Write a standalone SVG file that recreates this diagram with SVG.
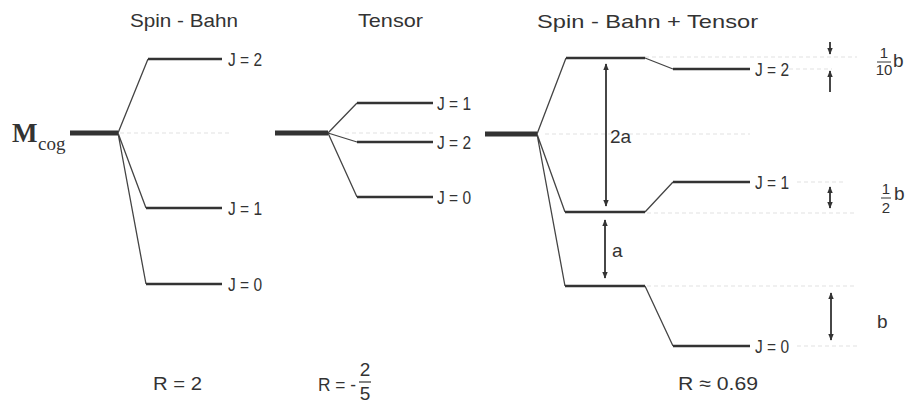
<svg xmlns="http://www.w3.org/2000/svg" width="908" height="417" viewBox="0 0 908 417">
<style>
text{font-family:"Liberation Sans","DejaVu Sans",sans-serif;fill:#333;font-size:19px}
.t{font-size:19px}
.lvl{stroke:#333;stroke-width:2.5;fill:none}
.br{stroke:#444;stroke-width:1.3;fill:none}
.cog{stroke:#333;stroke-width:5;fill:none}
.dot{stroke:#ececec;stroke-width:1.5;stroke-dasharray:4 3;fill:none}
.arr{stroke:#333;stroke-width:1.8;fill:none}
.fr{font-size:15px}
</style>
<defs>
<marker id="ah" viewBox="0 0 10 10" refX="9" refY="5" markerWidth="4" markerHeight="4" orient="auto-start-reverse" markerUnits="strokeWidth"><path d="M0,1 L10,5 L0,9 z" fill="#333"/></marker>
</defs>
<g id="titles">
<text class="t" x="130" y="27" textLength="108" lengthAdjust="spacingAndGlyphs">Spin - Bahn</text>
<text class="t" x="358" y="27" textLength="65" lengthAdjust="spacingAndGlyphs">Tensor</text>
<text class="t" x="537" y="28" textLength="221" lengthAdjust="spacingAndGlyphs">Spin - Bahn  +  Tensor</text>
</g>
<g id="mcog">
<text x="12" y="142" style="font-family:'Liberation Serif',serif;font-size:27px;font-weight:bold">M</text>
<text x="38" y="150" style="font-family:'Liberation Serif',serif;font-size:19px">cog</text>
</g>
<g id="guides">
<path class="dot" d="M120 133H230M345 133H435M545 134H750M645 57H857M782 69H832M797 182H843M647 213H857M647 286H857M797 346H857"/>
</g>
<g id="connectors">
<path class="br" d="M118 133L148 59M118 133L146 208M118 133L146 284"/>
<path class="br" d="M328 133L357 103M328 133L357 142M328 133L357 197"/>
<path class="br" d="M537 134L566 58M537 134L565 212M537 134L565 286"/>
<path class="br" d="M645 58L673 69M645 212L673 182M645 286L673 346"/>
</g>
<g id="spinbahn">
<path class="cog" d="M70 133H118"/>
<path class="lvl" d="M148 59H222M146 208H222M146 284H222"/>
<text x="228" y="66" textLength="34" lengthAdjust="spacingAndGlyphs">J = 2</text>
<text x="228" y="215" textLength="34" lengthAdjust="spacingAndGlyphs">J = 1</text>
<text x="228" y="291" textLength="34" lengthAdjust="spacingAndGlyphs">J = 0</text>
<text x="153" y="390" font-size="20" textLength="49" lengthAdjust="spacingAndGlyphs">R = 2</text>
</g>
<g id="tensor">
<path class="cog" d="M275 133H328"/>
<path class="lvl" d="M357 103H433M357 142H433M357 197H433"/>
<text x="437" y="110" textLength="34" lengthAdjust="spacingAndGlyphs">J = 1</text>
<text x="437" y="149" textLength="34" lengthAdjust="spacingAndGlyphs">J = 2</text>
<text x="437" y="204" textLength="34" lengthAdjust="spacingAndGlyphs">J = 0</text>
<text x="318" y="391" font-size="20" textLength="38" lengthAdjust="spacingAndGlyphs">R = -</text>
<text x="365" y="376" font-size="16" text-anchor="middle">2</text>
<path d="M359 382H371" stroke="#333" stroke-width="1.2"/>
<text x="365" y="400" font-size="16" text-anchor="middle">5</text>
</g>
<g id="combined">
<path class="cog" d="M485 134H537"/>
<path class="lvl" d="M566 58H645M565 212H645M565 286H645M673 69H750M673 182H750M673 346H750"/>
<text x="755" y="76" textLength="34" lengthAdjust="spacingAndGlyphs">J = 2</text>
<text x="755" y="189" textLength="34" lengthAdjust="spacingAndGlyphs">J = 1</text>
<text x="755" y="353" textLength="34" lengthAdjust="spacingAndGlyphs">J = 0</text>
<path class="arr" d="M606 64V206" marker-start="url(#ah)" marker-end="url(#ah)"/>
<text x="610" y="143">2a</text>
<path class="arr" d="M605 220V278" marker-start="url(#ah)" marker-end="url(#ah)"/>
<text x="612" y="257">a</text>
<path class="arr" d="M830 42V54" marker-end="url(#ah)"/>
<path class="arr" d="M830 92V71" marker-end="url(#ah)"/>
<text class="fr" x="884" y="58" text-anchor="middle">1</text>
<path d="M877 62H891" stroke="#333" stroke-width="1"/>
<text class="fr" x="884" y="75" text-anchor="middle">10</text>
<text x="893" y="67">b</text>
<path class="arr" d="M830 187V208" marker-start="url(#ah)" marker-end="url(#ah)"/>
<text class="fr" x="886" y="194" text-anchor="middle">1</text>
<path d="M881 198H891" stroke="#333" stroke-width="1"/>
<text class="fr" x="886" y="213" text-anchor="middle">2</text>
<text x="894" y="200">b</text>
<path class="arr" d="M831 293V340" marker-start="url(#ah)" marker-end="url(#ah)"/>
<text x="877" y="328">b</text>
<text x="678" y="390" font-size="20" textLength="80" lengthAdjust="spacingAndGlyphs">R ≈ 0.69</text>
</g>
</svg>
